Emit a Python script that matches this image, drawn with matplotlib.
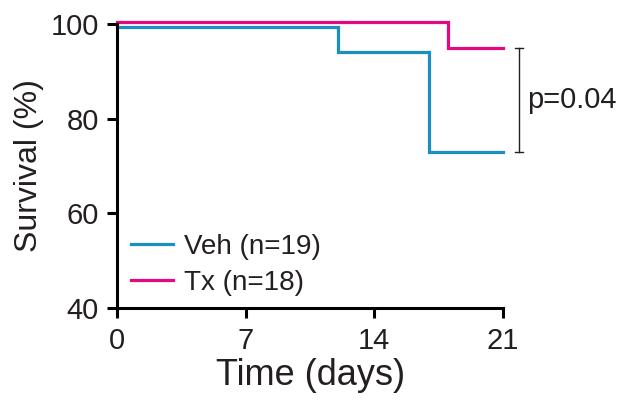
import matplotlib
matplotlib.use("Agg")
import matplotlib.pyplot as plt

# Kaplan-Meier step data (values as drawn; lines offset slightly so both show at 100%)
veh_days = [0, 12, 17, 21]
veh_surv = [99.3, 94.0, 73.0, 73.0]
tx_days = [0, 18, 21]
tx_surv = [100.5, 94.9, 94.9]

labels = ["Veh (n=19)", "Tx (n=18)"]
colors = ["#1b8ec2", "#e6087f"]
xticks = [0, 7, 14, 21]
yticks = [40, 60, 80, 100]
p_text = "p=0.04"

text_col = "#231f20"
plt.rcParams["font.family"] = ["Liberation Sans", "DejaVu Sans"]

fig = plt.figure(figsize=(6.28, 4.0), dpi=100)
ax = fig.add_axes([0.187, 0.23, 0.6135, 0.71])

ax.step(veh_days, veh_surv, where="post", color=colors[0], lw=2.3,
        label=labels[0], clip_on=False, solid_joinstyle="miter")
ax.step(tx_days, tx_surv, where="post", color=colors[1], lw=2.3,
        label=labels[1], clip_on=False, solid_joinstyle="miter")

ax.set_xlim(0, 21)
ax.set_ylim(40, 100)
ax.set_xticks(xticks)
ax.set_yticks(yticks)

for s in ["top", "right"]:
    ax.spines[s].set_visible(False)
for s in ["left", "bottom"]:
    ax.spines[s].set_linewidth(2.2)
ax.tick_params(width=2.2, length=7, labelsize=21, colors="black",
               labelcolor=text_col, pad=6.5)
ax.tick_params(axis="x", pad=7)

ax.set_xlabel("Time (days)", fontsize=26, color=text_col, labelpad=2)
ax.set_ylabel("Survival (%)", fontsize=23, color=text_col)
ax.yaxis.set_label_coords(-0.19, 0.5)

# significance bracket
bx = 21.9
y_top, y_bot = veh_surv[-1], tx_surv[-1]
ax.plot([bx, bx], [y_top, y_bot], color=text_col, lw=1.0, clip_on=False)
for yy in [y_top, y_bot]:
    ax.plot([bx - 0.22, bx + 0.22], [yy, yy], color=text_col, lw=1.0, clip_on=False)
ax.text(bx + 0.45, (y_top + y_bot) / 2, p_text, fontsize=21, color=text_col,
        va="center", ha="left")

leg = ax.legend(loc="lower left", bbox_to_anchor=(0.0, -0.005), frameon=False,
                fontsize=20, handlelength=1.5, handletextpad=0.4,
                labelspacing=0.35, borderaxespad=0.1)
for t in leg.get_texts():
    t.set_color(text_col)

fig.savefig("out.png", dpi=100)
